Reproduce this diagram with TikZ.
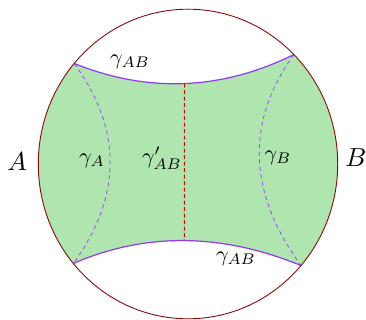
\documentclass[tikz,border=0pt]{standalone}
\usetikzlibrary{calc}
\definecolor{regionfill}{RGB}{175,230,175}
\definecolor{rimred}{RGB}{135,10,10}
\definecolor{geodesic}{RGB}{145,55,245}
\tikzset{
  rim/.style={draw=rimred, line width=0.9pt},
  geo/.style={draw=geodesic, line width=1.2pt},
  geodash/.style={draw=geodesic, line width=0.7pt, dash pattern=on 4pt off 3.5pt},
  reddash/.style={draw=red!90!black, line width=0.9pt, dash pattern=on 4pt off 2.5pt},
  lbl/.style={scale=2.2, inner sep=0pt},
  biglbl/.style={scale=2.6, inner sep=0pt}
}
\begin{document}
\begin{tikzpicture}[x=1pt,y=1pt]
\useasboundingbox (0,0) rectangle (366,320);
\coordinate (O) at (188,156);
\coordinate (TL) at ($(O)+(139.5:149.7pt and 154.8pt)$);
\coordinate (TR) at ($(O)+(45:149.7pt and 154.8pt)$);
\coordinate (BR) at ($(O)+(-41:149.7pt and 154.8pt)$);
\coordinate (BL) at ($(O)+(220:149.7pt and 154.8pt)$);
% shaded region
\fill[regionfill] (TL) .. controls (147.9,226.9) and (221.3,229.6) .. (TR)
  arc[start angle=45, end angle=-41, x radius=149.7pt, y radius=154.8pt]
  .. controls (221.5,87.1) and (145.2,87.7) .. (BL)
  arc[start angle=220, end angle=139.5, x radius=149.7pt, y radius=154.8pt] -- cycle;
% dashed geodesics
\draw[geodash] (TL) .. controls (122.4,190.7) and (122.0,123.6) .. (BL);
\draw[geodash] (TR) .. controls (245.4,198.0) and (247.9,127.6) .. (BR);
% solid geodesics
\draw[geo] (TL) .. controls (147.9,226.9) and (221.3,229.6) .. coordinate[pos=0.5] (mt) (TR);
\draw[geo] (BL) .. controls (145.2,87.7) and (221.5,87.1) .. coordinate[pos=0.5] (mb) (BR);
\draw[reddash] (mt) -- (mb);
% boundary circle
\draw[rim] (O) ellipse[x radius=149.7pt, y radius=154.8pt];
% labels
\node[lbl] (gABt) at (130,258) {$\gamma_{AB}$};
\node[lbl] (gABb) at (236,61) {$\gamma_{AB}$};
\node[lbl] (gA) at (92,159) {$\gamma_{A}$};
\node[lbl] (gAp) at (162,162) {$\gamma'_{AB}$};
\node[lbl] (gB) at (278,162) {$\gamma_{B}$};
\node[biglbl] (A) at (17,158) {$A$};
\node[biglbl] (B) at (356,162) {$B$};
\end{tikzpicture}
\end{document}
